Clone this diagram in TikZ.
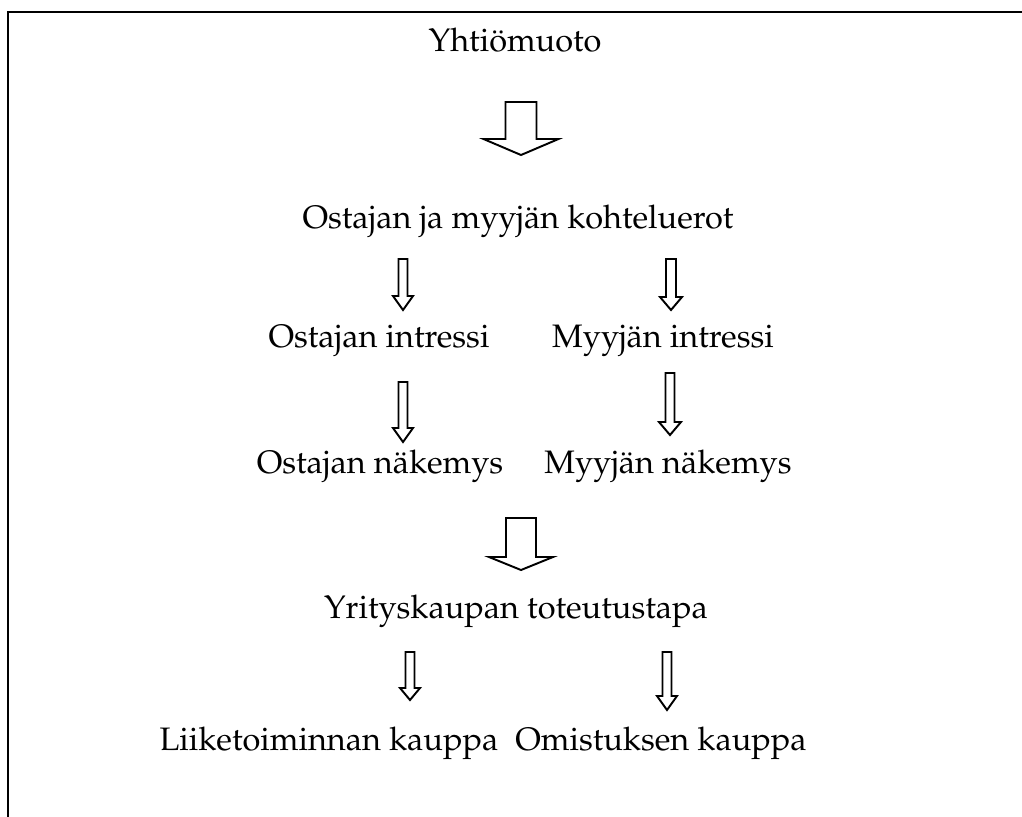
\documentclass[tikz,border=0pt]{standalone}
\usepackage[T1]{fontenc}
\renewcommand{\rmdefault}{ppl}
\usepackage{tikz}
\usetikzlibrary{positioning}

% hollow block arrow: x, top, head base, tip, half shaft, half head
\newcommand{\blockarr}[6]{%
  \draw[blk] (#1-#5,#2) -- (#1+#5,#2) -- (#1+#5,#3) -- (#1+#6,#3)
    -- (#1,#4) -- (#1-#6,#3) -- (#1-#5,#3) -- cycle;}

\begin{document}
\begin{tikzpicture}[
  x=0.02cm, y=-0.02cm,
  lbl/.style={font=\fontsize{18.5}{22}\selectfont, inner sep=0pt},
  blk/.style={draw=black, line width=1.1pt, line join=miter},
  frame/.style={draw=black, line width=1.3pt}
]
  \useasboundingbox (0,0) rectangle (1022,816);
  \clip (0,0) rectangle (1022,816);

  % outer frame (runs off right and bottom)
  \draw[frame] (8,12) rectangle (1040,840);

  % Labels
  \node[lbl] (form)  at (515,40)  {Yhti\"omuoto};
  \node[lbl] (diff)  at (518,221) {Ostajan ja myyj\"an kohteluerot};
  \node[lbl] (bint)  at (379,341) {Ostajan intressi};
  \node[lbl] (sint)  at (663,341) {Myyj\"an intressi};
  \node[lbl] (bview) at (380,466) {Ostajan n\"akemys};
  \node[lbl] (sview) at (668,466) {Myyj\"an n\"akemys};
  \node[lbl] (way)   at (516,611) {Yrityskaupan toteutustapa};
  \node[lbl] (asset) at (329,743) {Liiketoiminnan kauppa};
  \node[lbl] (share) at (661,743) {Omistuksen kauppa};

  % Big arrows
  \blockarr{521}{102}{139}{155}{15.5}{37.5}
  \blockarr{521}{518}{557}{570}{15}{32}

  % Small arrows
  \blockarr{403}{259}{296}{310}{4.5}{10}
  \blockarr{671}{259}{297}{310}{5}{11}
  \blockarr{403}{382}{428}{442}{4.5}{10}
  \blockarr{670}{373}{422}{435}{4.5}{11}
  \blockarr{410}{652}{688}{700}{4.5}{10}
  \blockarr{667}{652}{696}{710}{4.5}{10}

\end{tikzpicture}
\end{document}
